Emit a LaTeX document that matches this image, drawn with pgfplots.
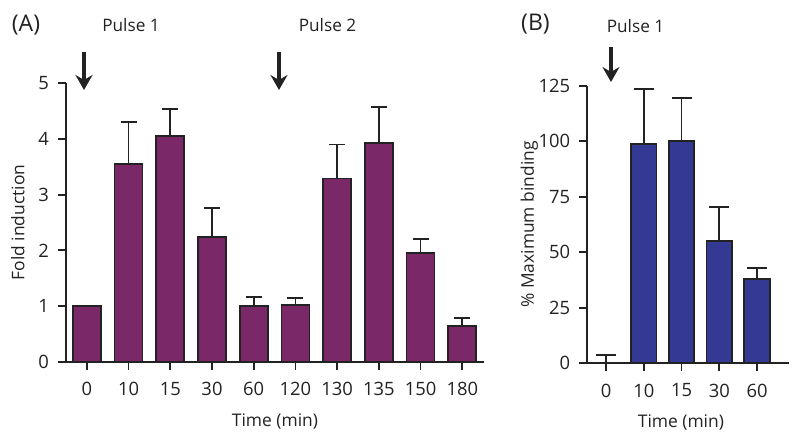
\documentclass[border=0pt]{standalone}
\usepackage{fontspec}
\setmainfont{Open Sans}
\usepackage{pgfplots}
\usepackage{pgfplotstable}
\pgfplotsset{compat=1.18}
\usetikzlibrary{arrows.meta}
\definecolor{barA}{HTML}{7A2868}
\definecolor{barB}{HTML}{343A93}
\definecolor{ink}{HTML}{222222}

\pgfplotstableread{
x y e
0 1.00 0.00
1 3.55 0.76
2 4.05 0.49
3 2.24 0.52
4 1.00 0.16
5 1.02 0.12
6 3.29 0.61
7 3.93 0.64
8 1.95 0.26
9 0.64 0.15
}\dataA

\pgfplotstableread{
x y e
0 0.0 3.7
1 98.8 24.8
2 100.0 19.6
3 55.2 15.3
4 38.0 4.8
}\dataB

\pgfplotsset{
  myaxis/.style={
    scale only axis,
    axis x line*=bottom,
    axis y line*=left,
    axis line style={-, ink, line width=0.85pt},
    tick style={ink, line width=0.85pt},
    tick align=outside,
    major tick length=4pt,
    xtick pos=bottom, ytick pos=left,
    /pgf/number format/assume math mode=true,
    tick label style={font=\fontsize{9.2}{11}\selectfont, text=ink},
    xticklabel style={yshift=-3.2pt},
    yticklabel style={xshift=-1.5pt},
    label style={font=\fontsize{8.7}{10}\selectfont, text=ink},
    ybar,
    ymin=0,
    xmin=-0.5,
    clip=false,
    error bars/y dir=plus,
    error bars/y explicit,
    error bars/error bar style={ink, line width=0.85pt},
  },
}

\begin{document}
\fontsize{8.6}{10}\selectfont
\begin{tikzpicture}
\path[use as bounding box] (0,0) rectangle (400pt,218pt);

\begin{axis}[myaxis,
  at={(33pt,37.15pt)}, anchor=south west,
  width=209pt, height=139.2pt,
  xmax=9.52, ymax=5,
  xtick={0,...,9},
  xticklabels={0,10,15,30,60,120,130,135,150,180},
  ytick={0,1,2,3,4,5},
  bar width=14pt,
  error bars/error mark options={rotate=90, mark size=4pt, line width=0.85pt, ink},
  xlabel={Time (min)},
  ylabel={Fold induction},
  xlabel style={at={(axis description cs:0.5,-0.215)}, anchor=center},
  ylabel style={at={(axis description cs:-0.115,0.5)}, anchor=center},
]
\addplot[fill=barA, draw=ink, line width=0.85pt] table[x=x, y=y, y error=e] {\dataA};
\end{axis}

\begin{axis}[myaxis,
  at={(293.65pt,36.35pt)}, anchor=south west,
  width=100.7pt, height=138.8pt,
  xmax=4.84, ymax=125,
  xtick={0,...,4},
  xticklabels={0,10,15,30,60},
  ytick={0,25,50,75,100,125},
  bar width=12.7pt,
  error bars/error mark options={rotate=90, mark size=5pt, line width=0.85pt, ink},
  xlabel={Time (min)},
  ylabel={\% Maximum binding},
  xlabel style={at={(axis description cs:0.465,-0.212)}, anchor=center},
  ylabel style={at={(axis description cs:-0.288,0.5)}, anchor=center},
]
\addplot[fill=barB, draw=ink, line width=0.85pt] table[x=x, y=y, y error=e] {\dataB};
\end{axis}

\node[text=ink, font=\fontsize{11.5}{13}\selectfont] at (13pt,205.5pt) {(A)};
\node[text=ink] at (65.5pt,205.5pt) {Pulse 1};
\node[text=ink] at (163.75pt,205.5pt) {Pulse 2};
\node[text=ink, font=\fontsize{11.5}{13}\selectfont] at (267.75pt,206pt) {(B)};
\node[text=ink] at (317.75pt,205pt) {Pulse 1};

\draw[line width=1.7pt, -{Stealth[length=7.5pt, width=8.5pt, inset=2.5pt]}, ink] (42pt,191.85pt) -- (42pt,173pt);
\draw[line width=1.7pt, -{Stealth[length=7.5pt, width=8.5pt, inset=2.5pt]}, ink] (139.5pt,191.85pt) -- (139.5pt,173pt);
\draw[line width=1.7pt, -{Stealth[length=7.5pt, width=8.5pt, inset=2.5pt]}, ink] (305.5pt,194.5pt) -- (305.5pt,177pt);
\end{tikzpicture}
\end{document}
